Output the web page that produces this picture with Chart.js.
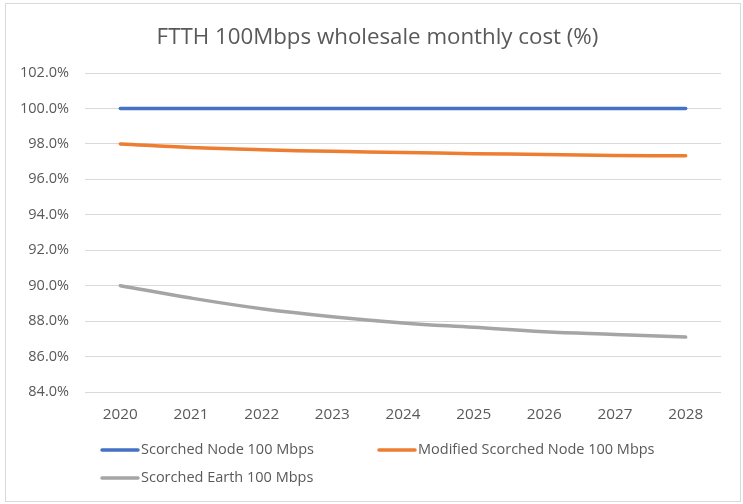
<!DOCTYPE html>
<html>
<head>
<meta charset="utf-8">
<script src="https://cdn.jsdelivr.net/npm/chart.js@4"></script>
<style>
  html, body { margin: 0; padding: 0; background: #ffffff; }
  #wrap { width: 743px; height: 504px; position: relative; }
</style>
</head>
<body>
<div id="wrap"><canvas id="c" width="743" height="504"></canvas></div>
<script>
const chartTitle = 'FTTH 100Mbps wholesale monthly cost (%)';
const years = ['2020', '2021', '2022', '2023', '2024', '2025', '2026', '2027', '2028'];
const seriesNames = ['Scorched Node 100 Mbps', 'Modified Scorched Node 100 Mbps', 'Scorched Earth 100 Mbps'];
const scorchedNode = [100.0, 100.0, 100.0, 100.0, 100.0, 100.0, 100.0, 100.0, 100.0];
const modifiedScorchedNode = [98.0, 97.8, 97.67, 97.58, 97.52, 97.45, 97.4, 97.35, 97.33];
const scorchedEarth = [90.0, 89.3, 88.7, 88.25, 87.9, 87.65, 87.4, 87.25, 87.1];
const seriesColors = ['#4472C4', '#ED7D31', '#A5A5A5'];
const yMin = 84, yMax = 102, yStep = 2;

const FONT = 'Open Sans';
const TEXT = '#595959';

const frame = {
  id: 'frame',
  beforeDraw(chart) {
    const ctx = chart.ctx;
    ctx.save();
    ctx.fillStyle = '#ffffff';
    ctx.fillRect(0, 0, chart.width, chart.height);
    ctx.strokeStyle = '#d9d9d9';
    ctx.lineWidth = 1;
    ctx.strokeRect(5.5, 3.5, chart.width - 8, chart.height - 6);
    ctx.restore();
  }
};

const customTitle = {
  id: 'customTitle',
  afterDraw(chart) {
    const ctx = chart.ctx;
    ctx.save();
    ctx.font = '22.3px "' + FONT + '"';
    ctx.fillStyle = TEXT;
    ctx.textAlign = 'center';
    ctx.textBaseline = 'middle';
    ctx.fillText(chartTitle, 377.5, 38);
    ctx.restore();
  }
};

const customLegend = {
  id: 'customLegend',
  afterDraw(chart) {
    const ctx = chart.ctx;
    const pos = [[101, 450], [378, 450], [101, 478]];
    ctx.save();
    ctx.font = '14.5px "' + FONT + '"';
    ctx.textBaseline = 'middle';
    ctx.textAlign = 'left';
    chart.data.datasets.forEach((ds, i) => {
      const [x, y] = pos[i];
      ctx.strokeStyle = ds.borderColor;
      ctx.lineWidth = 3.5;
      ctx.lineCap = 'round';
      ctx.beginPath();
      ctx.moveTo(x + 1, y);
      ctx.lineTo(x + 37, y);
      ctx.stroke();
      ctx.fillStyle = TEXT;
      ctx.fillText(ds.label, x + 40, y);
    });
    ctx.restore();
  }
};

const datasets = [scorchedNode, modifiedScorchedNode, scorchedEarth].map((d, i) => ({
  label: seriesNames[i],
  data: d,
  borderColor: seriesColors[i],
  backgroundColor: seriesColors[i],
  borderWidth: 3.5,
  borderCapStyle: 'round',
  pointRadius: 0,
  pointHoverRadius: 0,
  tension: 0.4,
  fill: false
}));

new Chart(document.getElementById('c'), {
  type: 'line',
  data: { labels: years, datasets },
  plugins: [frame, customTitle, customLegend],
  options: {
    responsive: false,
    animation: false,
    devicePixelRatio: 1,
    layout: { padding: { left: 0, right: 22, top: 73, bottom: 82 } },
    plugins: {
      legend: { display: false },
      tooltip: { enabled: false },
      title: { display: false }
    },
    scales: {
      x: {
        offset: true,
        grid: { display: false, drawTicks: false },
        border: { display: false },
        ticks: { color: TEXT, font: { family: FONT, size: 15.3 }, padding: 13, maxRotation: 0 },
        afterFit(s) { s.height = 30; }
      },
      y: {
        min: yMin,
        max: yMax,
        grid: { color: '#d9d9d9', lineWidth: 1, drawTicks: false },
        border: { display: false },
        ticks: {
          stepSize: yStep,
          color: TEXT,
          font: { family: FONT, size: 14.5 },
          padding: 16,
          callback: v => v.toFixed(1) + '%'
        },
        afterFit(s) { s.width = 85; }
      }
    }
  }
});
</script>
</body>
</html>
